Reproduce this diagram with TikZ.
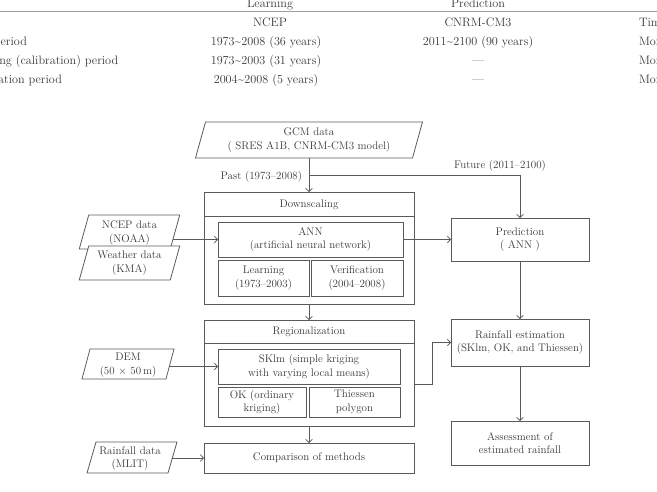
\documentclass[tikz,border=0pt]{standalone}
\usetikzlibrary{arrows.meta}
\definecolor{lnc}{HTML}{5A5A5A}
\definecolor{txc}{HTML}{383838}
\newcommand\parashape[3][]{\draw[lnc,line width=0.8pt,#1] ([xshift=#3]#2.north west) -- ([xshift=#3]#2.north east) -- ([xshift=-#3]#2.south east) -- ([xshift=-#3]#2.south west) -- cycle;}
\begin{document}
\begin{tikzpicture}[x=1pt,y=-1pt,
  every node/.style={text=txc,font=\fontsize{11}{13.5}\selectfont,align=center,inner sep=0pt,outer sep=0pt},
  box/.style={draw=lnc,line width=0.8pt},
  conn/.style={draw=lnc,line width=0.8pt},
  arr/.style={conn,-{Straight Barb[length=3pt,width=6.5pt]}},
  tab/.style={font=\fontsize{12.2}{14}\selectfont,anchor=base},
  tabl/.style={tab,anchor=base west}
]
\useasboundingbox (0,0) rectangle (657,491);
\begin{scope}
\clip (0,0) rectangle (657,491);
% ---- table fragment ----
\node[tab] (th1) at (270,7.5) {Learning};
\node[tab] (th2) at (478,7.5) {Prediction};
\draw[gray!75,line width=1.1pt] (0,11.5) -- (657,11.5);
\node[tab] (t01) at (270,26) {NCEP};
\node[tab] (t02) at (478,26) {CNRM-CM3};
\node[tabl] (t03) at (639,26) {Time step};
\node[tabl] (t10) at (-36,45) {Data period};
\node[tab] (t11) at (266,45) {1973\textasciitilde 2008 (36 years)};
\node[tab] (t12) at (478,45) {2011\textasciitilde 2100 (90 years)};
\node[tabl] (t13) at (639,45) {Monthly};
\node[tabl] (t20) at (-34,64) {Learning (calibration) period};
\node[tab] (t21) at (266,64) {1973\textasciitilde 2003 (31 years)};
\node[tab] (t22) at (478,64) {---};
\node[tabl] (t23) at (639,64) {Monthly};
\node[tabl] (t30) at (-35,83) {Verification period};
\node[tab] (t31) at (266,83) {2004\textasciitilde 2008 (5 years)};
\node[tab] (t32) at (478,83) {---};
\node[tabl] (t33) at (639,83) {Monthly};
\end{scope}

% ---- GCM ----
\node[minimum width=217pt,minimum height=36pt] (gcm) at (309,140) {};
\parashape{gcm}{5pt}
\node (gcmt) at (gcm) {GCM data\\( SRES A1B, CNRM-CM3 model)};

% ---- Downscaling ----
\node[box,minimum width=210pt,minimum height=112pt] (ds) at (309,248) {};
\draw[conn] (204,216) -- (414,216);
\node (dsh) at (309,204.5) {Downscaling};
\node[box,minimum width=185pt,minimum height=35pt] (ann) at (310.5,239.5) {ANN\\(artificial neural network)};
\node[box,minimum width=91pt,minimum height=36pt] (learn) at (263.5,278) {Learning\\(1973--2003)};
\node[box,minimum width=92pt,minimum height=36pt] (verif) at (357,278) {Verification\\(2004--2008)};

% ---- Regionalization ----
\node[box,minimum width=210pt,minimum height=106pt] (reg) at (309,373) {};
\draw[conn] (204,343) -- (414,343);
\node (regh) at (309,332) {Regionalization};
\node[box,minimum width=182pt,minimum height=35pt] (sklm) at (309,366.5) {SKlm (simple kriging\\with varying local means)};
\node[box,minimum width=88pt,minimum height=30pt] (ok) at (262,402) {OK (ordinary\\kriging)};
\node[box,minimum width=91pt,minimum height=30pt] (thi) at (354.5,402) {Thiessen\\polygon};

% ---- Comparison ----
\node[box,minimum width=210pt,minimum height=30pt] (comp) at (309,458) {Comparison of methods};

% ---- right column ----
\node[box,minimum width=138pt,minimum height=43pt] (pred) at (520,239.5) {Prediction\\( ANN )};
\node[box,minimum width=138pt,minimum height=47pt] (rain) at (520,342.5) {Rainfall estimation\\(SKlm, OK, and Thiessen)};
\node[box,minimum width=138pt,minimum height=44pt] (assess) at (520,443) {Assessment of\\estimated rainfall};

% ---- left inputs ----
\node[minimum width=91pt,minimum height=34pt] (ncep) at (129.5,232) {};
\parashape{ncep}{4.75pt}
\node (ncept) at (129.5,233) {NCEP data\\(NOAA)};
\node[minimum width=91pt,minimum height=34pt] (wea) at (129.5,263) {};
\parashape[fill=white]{wea}{4.75pt}
\node (weat) at (wea) {Weather data\\(KMA)};
\node[minimum width=84pt,minimum height=30pt] (dem) at (128,364) {};
\parashape{dem}{4pt}
\node (demt) at (128,365) {DEM\\(50 $\times$ 50\,m)};
\node[minimum width=81pt,minimum height=31pt] (rdat) at (132,457.5) {};
\parashape{rdat}{4.5pt}
\node (rdatt) at (130,458.5) {Rainfall data\\(MLIT)};

% ---- connectors ----
\draw[arr] (gcm.south) -- (ds.north);
\coordinate (jn) at (309,175);
\draw[arr] (jn) -| (pred.north);
\node[anchor=east] (past) at (302,177) {Past (1973--2008)};
\node (future) at (500,166) {Future (2011--2100)};
\draw[arr] (ann.east) -- (pred.west);
\draw[arr] ([xshift=-2pt]ann.west -| ncep.east) -- (ann.west);
\draw[arr] (ds.south) -- (reg.north);
\draw[arr] ([xshift=-1pt]sklm.west -| dem.east) -- (sklm.west);
\draw[arr] (reg.south) -- (comp.north);
\draw[arr] ([xshift=-1pt]comp.west -| rdat.east) -- (comp.west);
\draw[arr] (reg.east |- sklm.south) -- ++(18,0) |- (rain.west);
\draw[arr] (pred.south) -- (rain.north);
\draw[arr] (rain.south) -- (assess.north);
\end{tikzpicture}
\end{document}
